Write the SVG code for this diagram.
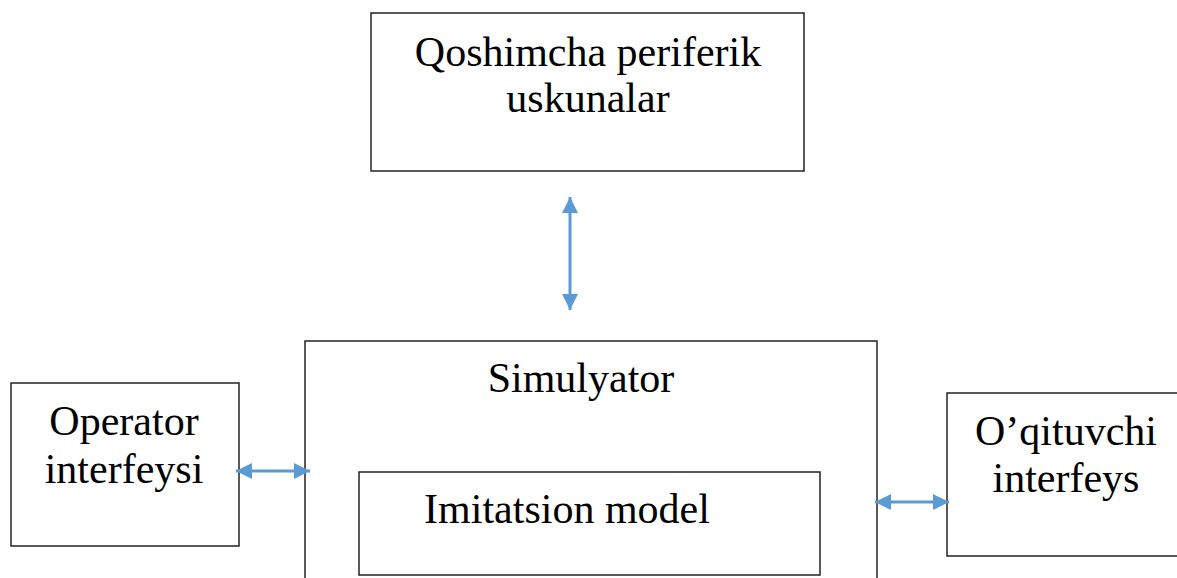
<svg xmlns="http://www.w3.org/2000/svg" width="1177" height="578" viewBox="0 0 1177 578">
<style>
.box{fill:#fff;stroke:#222;stroke-width:1.5}
.t{font-family:"Liberation Serif","Times New Roman",serif;font-size:42px;fill:#000;text-anchor:middle}
.c{stroke:#5B9BD5;stroke-width:3;fill:none}
</style>
<defs>
<marker id="ah" markerUnits="userSpaceOnUse" markerWidth="16" markerHeight="16" viewBox="0 0 16 16" refX="16" refY="8" orient="auto-start-reverse">
<path d="M0,0 L16,8 L0,16 Z" fill="#5B9BD5"/>
</marker>
</defs>
<rect width="1177" height="578" fill="#fff"/>
<g id="node-periferik">
<rect class="box" x="371" y="13" width="433" height="158"/>
<text class="t" x="588" y="66">Qoshimcha periferik</text>
<text class="t" x="588" y="112">uskunalar</text>
</g>
<g id="node-simulyator">
<rect class="box" x="305" y="341" width="572" height="260"/>
<text class="t" x="581" y="392">Simulyator</text>
</g>
<g id="node-imitatsion">
<rect class="box" x="359" y="472" width="461" height="103"/>
<text class="t" x="567" y="523">Imitatsion model</text>
</g>
<g id="node-operator">
<rect class="box" x="11" y="383" width="228" height="163"/>
<text class="t" x="124" y="435">Operator</text>
<text class="t" x="124" y="483">interfeysi</text>
</g>
<g id="node-oqituvchi">
<rect class="box" x="947" y="393" width="250" height="163"/>
<text class="t" x="1066" y="445">O’qituvchi</text>
<text class="t" x="1066" y="492">interfeys</text>
</g>
<g id="connectors">
<line class="c" x1="570" y1="197" x2="570" y2="310" marker-start="url(#ah)" marker-end="url(#ah)"/>
<line class="c" x1="236" y1="471" x2="310" y2="471" marker-start="url(#ah)" marker-end="url(#ah)"/>
<line class="c" x1="875" y1="502" x2="949" y2="502" marker-start="url(#ah)" marker-end="url(#ah)"/>
</g>
</svg>
